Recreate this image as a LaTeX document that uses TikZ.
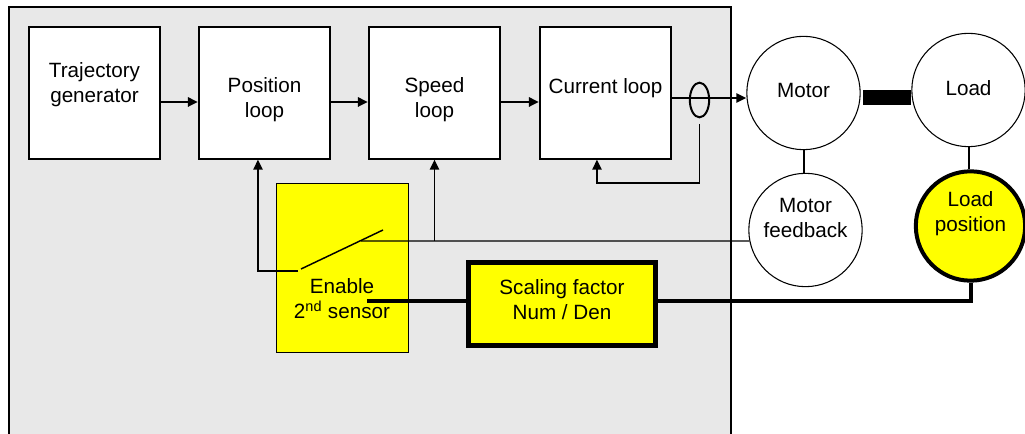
\documentclass[tikz,border=0pt]{standalone}
\usepackage{fontspec}
\setmainfont{Liberation Sans}
\usetikzlibrary{arrows.meta,shapes.geometric}
\definecolor{panel}{HTML}{E8E8E8}
\definecolor{yel}{HTML}{FFFF00}
\begin{document}
\begin{tikzpicture}[x=0.75pt,y=-0.75pt,
  font=\fontsize{15.5}{18.75}\selectfont,
  blk/.style={draw,fill=white,line width=1.5pt,minimum width=98.5pt,minimum height=98.5pt,inner sep=0pt},
  circ/.style={draw,circle,fill=white,line width=0.8pt,minimum size=85pt,inner sep=0pt},
  txt/.style={align=center,inner sep=0pt},
  arr/.style={line width=1.5pt,-{Triangle[length=7.5pt,width=7pt]}},
  thinarr/.style={line width=1.1pt,-{Triangle[length=7.5pt,width=7pt]}},
  thinline/.style={line width=0.9pt},
  heavy/.style={line width=3pt}
]
\useasboundingbox (0,0) rectangle (1025,434);
\clip (0,0) rectangle (1025,434);
% panel
\draw[fill=panel,line width=1pt] (9,7) rectangle (731,450);

% blocks
\node[blk] (traj) at (94.5,93) {};
\node[blk] (pos) at (264.5,93) {};
\node[blk] (speed) at (434.5,93) {};
\node[blk] (cur) at (605.5,93) {};
\node[txt] (trajt) at (94.5,85) {Trajectory\\generator};
\node[txt] (post) at (264.5,100) {Position\\loop};
\node[txt] (speedt) at (434.5,100) {Speed\\loop};
\node[txt] (curt) at (605.5,88) {Current loop};

% enable box and scaling box
\node[draw,fill=yel,line width=1.1pt,minimum width=99pt,minimum height=127pt,inner sep=0pt] (en) at (342.5,268) {};
\node[txt] (ent) at (342,299) {Enable\\2\textsuperscript{nd} sensor};
\node[draw,fill=yel,line width=3.75pt,minimum width=140pt,minimum height=62pt,inner sep=0pt] (scal) at (562,304) {};
\node[txt] (scalt) at (562,300) {Scaling factor\\Num / Den};

% motor / load
\node[circ] (motor) at (803.5,93) {};
\node[txt] (motort) at (803.5,90) {Motor};
\node[circ] (load) at (968.5,90) {};
\node[txt] (loadt) at (968.5,88) {Load};
\node[circ] (mfb) at (805.5,230) {};
\node[txt] (mfbt) at (805.5,218) {Motor\\feedback};
\node[circ,fill=yel,line width=3pt,minimum size=82pt] (lpos) at (970.5,226) {};
\node[txt] (lpost) at (970.5,214) {Load\\position};
\node[fill=black,minimum width=36pt,minimum height=11pt,inner sep=0pt] (shaft) at (887,97.5) {};

% main chain
\coordinate (ay) at (0,102);
\draw[arr] (traj.east |- ay) -- (pos.west |- ay);
\draw[arr] (pos.east |- ay) -- (speed.west |- ay);
\draw[arr] (speed.east |- ay) -- (cur.west |- ay);
\coordinate (cy) at (0,98);
\draw[arr] (cur.east |- cy) -- (motor.west |- cy);
\node[draw,ellipse,line width=1.5pt,minimum width=14.5pt,minimum height=26pt,inner sep=0pt] (ct) at (699.5,100) {};

% current feedback
\coordinate (fb1) at (699.5,124);
\coordinate (fb2) at (699.5,183);
\draw[thinarr] (fb1) -- (fb2) -| ([xshift=-6.4pt]cur.south);

% motor/load links
\draw[line width=1.5pt] (motor.south) -- (motor.south |- mfb.north);
\draw[line width=1.5pt] (load.south) -- (load.south |- lpos.north);

% motor feedback line and switch
\coordinate (blade1) at (301,269);
\coordinate (blade2) at (383,230);
\coordinate (contact) at (361,241);
\coordinate (spd) at (434.5,241);
\draw[thinline] (contact) -- (mfb.191);
\draw[thinarr] (spd) -- (speed.south);
\draw[line width=1.1pt] (blade1) -- (blade2);
\coordinate (pin) at (298,271);
\draw[thinarr] (pin) -| ([xshift=-4.9pt]pos.south);

% load position path
\coordinate (ty) at (0,301);
\coordinate (senin) at (367,301);
\draw[heavy] (senin) -- (scal.west |- ty);
\draw[heavy] (lpos.south) |- (scal.east |- ty);
\end{tikzpicture}
\end{document}
